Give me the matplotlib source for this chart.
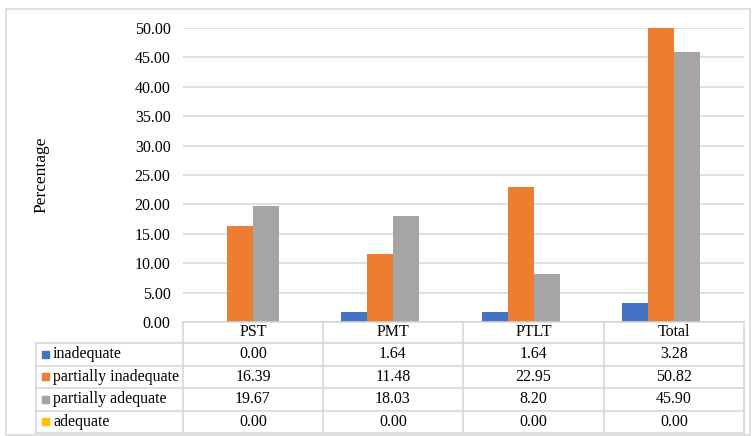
import matplotlib
matplotlib.use("Agg")
import matplotlib.pyplot as plt
from matplotlib.lines import Line2D
from matplotlib.patches import Rectangle
import numpy as np

categories = ["PST", "PMT", "PTLT", "Total"]
series_names = ["inadequate", "partially inadequate", "partially adequate", "adequate"]
inadequate = [0.00, 1.64, 1.64, 3.28]
partially_inadequate = [16.39, 11.48, 22.95, 50.82]
partially_adequate = [19.67, 18.03, 8.20, 45.90]
adequate = [0.00, 0.00, 0.00, 0.00]
yticks = [0, 5, 10, 15, 20, 25, 30, 35, 40, 45, 50]

series = [inadequate, partially_inadequate, partially_adequate, adequate]
colors = ["#4472C4", "#ED7D31", "#A5A5A5", "#FFC000"]

plt.rcParams['font.family'] = ['Liberation Serif', 'DejaVu Serif']
FS = 11.5

W, H = 752, 436
fig = plt.figure(figsize=(W / 100, H / 100), dpi=100)

def fx(x):
    return x / W

def fy(y):
    return 1 - y / H

left, right, top, bottom = 183, 744, 28, 322
ax = fig.add_axes([fx(left), fy(bottom), fx(right) - fx(left), fy(top) - fy(bottom)])

n = len(series)
w = 26 / 140
x = np.arange(len(categories))
for i, (vals, c) in enumerate(zip(series, colors)):
    ax.bar(x + (i - (n - 1) / 2) * w, vals, width=w, color=c, zorder=3)

ax.set_xlim(-0.5, len(categories) - 0.5)
ax.set_ylim(0, 50)
ax.set_yticks(yticks)
ax.set_yticklabels([f"{v:.2f}" for v in yticks], fontsize=FS)
ax.tick_params(axis='y', length=0, pad=9)
ax.set_xticks([])
ax.grid(axis='y', color='#d9d9d9', linewidth=1.2, zorder=0)
for s in ax.spines.values():
    s.set_visible(False)

fig.text(fx(41), fy(175), "Percentage", rotation=90, ha='center', va='center', fontsize=12.5)

lc = '#d4d4d4'
def hline(x0, x1, y):
    fig.add_artist(Line2D([fx(x0), fx(x1)], [fy(y), fy(y)], color=lc, linewidth=1.1))

def vline(x, y0, y1):
    fig.add_artist(Line2D([fx(x), fx(x)], [fy(y0), fy(y1)], color=lc, linewidth=1.1))

col_x = [36, 183, 323, 463, 604, 744]
head_top, head_bot = 322, 343
row_h = 22.5
row_y = [head_bot + k * row_h for k in range(len(series) + 1)]

hline(183, 744, head_top)
for y in row_y:
    hline(36, 744, y)
for xx in col_x[1:]:
    vline(xx, head_top, row_y[-1])
vline(col_x[0], head_bot, row_y[-1])

for j, cat in enumerate(categories):
    cx = (col_x[j + 1] + col_x[j + 2]) / 2
    fig.text(fx(cx), fy((head_top + head_bot) / 2), cat, ha='center', va='center', fontsize=FS)

for i, (name, vals, c) in enumerate(zip(series_names, series, colors)):
    yc = (row_y[i] + row_y[i + 1]) / 2
    fig.add_artist(Rectangle((fx(42), fy(yc + 3.5)), fx(7), fy(0) - fy(7), color=c, transform=fig.transFigure))
    fig.text(fx(53), fy(yc), name, ha='left', va='center', fontsize=FS)
    for j, v in enumerate(vals):
        cx = (col_x[j + 1] + col_x[j + 2]) / 2
        fig.text(fx(cx), fy(yc), f"{v:.2f}", ha='center', va='center', fontsize=FS)

fig.add_artist(Rectangle((fx(6), fy(435)), fx(744), fy(9) - fy(435), fill=False,
                         edgecolor='#d9d9d9', linewidth=1.2, transform=fig.transFigure))

fig.savefig("out.png", dpi=100)
